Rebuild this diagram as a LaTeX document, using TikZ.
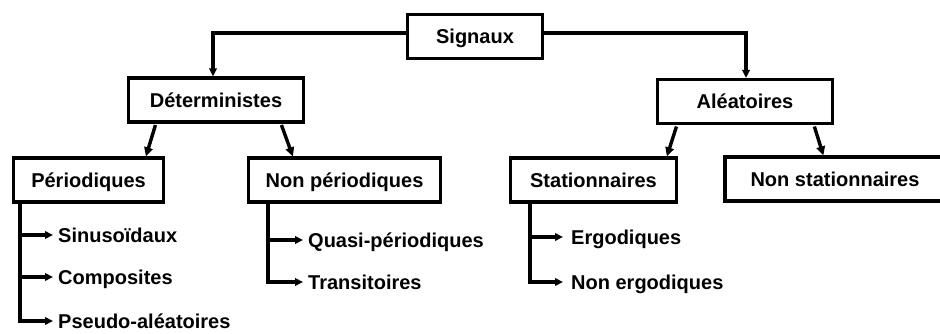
\documentclass[tikz,border=0pt]{standalone}
\usepackage{fontspec}
\setmainfont{Liberation Sans}
\usetikzlibrary{arrows.meta}
\begin{document}
\begin{tikzpicture}[x=1pt,y=-1pt,
  font=\fontsize{20pt}{24pt}\selectfont\bfseries,
  box/.style={draw=black, line width=3.2pt, inner sep=0pt, text height=14.5pt, text depth=0pt, minimum height=#1},
  box/.default=44pt,
  lbl/.style={anchor=west, inner xsep=5pt, inner ysep=0pt, text height=14.5pt, text depth=0pt},
  conn/.style={line width=3.2pt, -{Triangle[length=8pt,width=7.5pt]}},
  link/.style={line width=3.4pt, -{Triangle[length=9pt,width=8.5pt]}, shorten <=1.5pt}
]
\useasboundingbox (0,0) rectangle (940,334);
% boxes
\node[box, minimum width=135pt] (sig) at (475,36.5) {Signaux};
\node[box, minimum width=175pt] (det) at (216,100) {Déterministes};
\node[box, minimum width=175pt] (ale) at (745,101.5) {Aléatoires};
\node[box, minimum width=150pt] (per) at (88.5,180) {Périodiques};
\node[box, minimum width=192pt] (nper) at (344.5,180) {Non périodiques};
\node[box, minimum width=166pt] (sta) at (593.5,180) {Stationnaires};
\node[box, minimum width=220pt] (nsta) at (835,179) {Non stationnaires};
% labels
\node[lbl] (sin) at (53,235) {Sinusoïdaux};
\node[lbl] (comp) at (53,277) {Composites};
\node[lbl] (pseudo) at (53,321) {Pseudo-aléatoires};
\node[lbl] (quasi) at (303,240) {Quasi-périodiques};
\node[lbl] (trans) at (303,282) {Transitoires};
\node[lbl, inner xsep=8pt] (ergo) at (563,237) {Ergodiques};
\node[lbl, inner xsep=8pt] (nergo) at (563,282) {Non ergodiques};
% connectors from Signaux
\draw[conn] ([yshift=3.5pt]sig.west) -| ([xshift=-3pt]det.north);
\draw[conn] ([yshift=3.5pt]sig.east) -| ([xshift=1pt]ale.north);
% diagonal links
\draw[link] ([xshift=29pt]det.south west) -- ([xshift=134pt]per.north west);
\draw[link] ([xshift=154pt]det.south west) -- ([xshift=46pt]nper.north west);
\draw[link] ([xshift=21pt]ale.south west) -- ([xshift=158pt]sta.north west);
\draw[link] ([xshift=158pt]ale.south west) -- ([xshift=100pt]nsta.north west);
% sub items
\draw[conn] ([xshift=8pt]per.south west) |- (sin.west);
\draw[conn] ([xshift=8pt]per.south west) |- (comp.west);
\draw[conn] ([xshift=8pt]per.south west) |- (pseudo.west);
\draw[conn] ([xshift=21pt]nper.south west) |- (quasi.west);
\draw[conn] ([xshift=21pt]nper.south west) |- (trans.west);
\draw[conn] ([xshift=21pt]sta.south west) |- (ergo.west);
\draw[conn] ([xshift=21pt]sta.south west) |- (nergo.west);
\end{tikzpicture}
\end{document}
